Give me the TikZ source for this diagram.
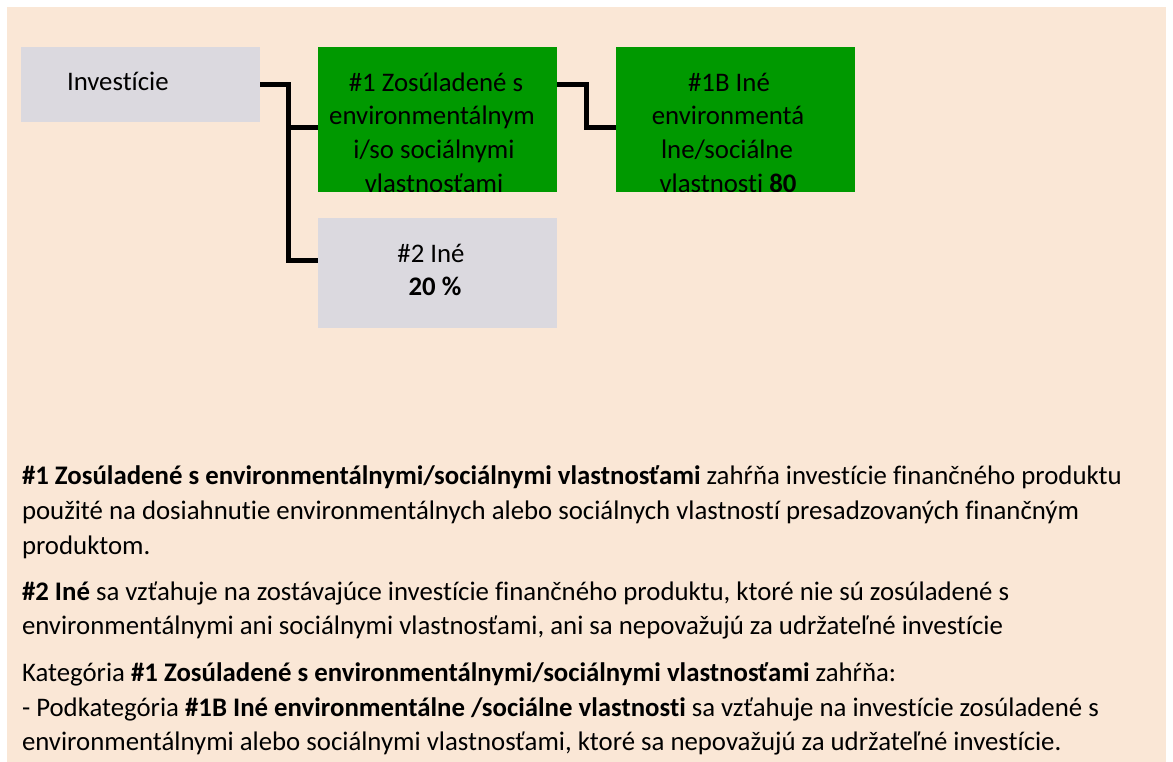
\documentclass[tikz,border=0pt]{standalone}
\usepackage{fontspec}
\setmainfont{Carlito}[Ligatures=NoCommon]
\definecolor{beige}{RGB}{250,231,214}
\definecolor{boxgray}{RGB}{219,217,223}
\definecolor{boxgreen}{RGB}{0,153,0}
\begin{document}
\begin{tikzpicture}[x=1pt,y=-1pt,
  box/.style={draw=none,inner sep=0pt,outer sep=0pt,minimum width=239pt,anchor=north west},
  graybox/.style={box,fill=boxgray},
  greenbox/.style={box,fill=boxgreen},
  lbl/.style={inner sep=0pt,outer sep=0pt,font=\fontsize{26.8}{34}\selectfont},
  txt/.style={lbl,anchor=base west},
  ctxt/.style={lbl,anchor=base},
  conn/.style={line width=5pt,black,line cap=butt,line join=miter}]
\useasboundingbox (0,0) rectangle (1173,762);
\fill[beige] (7,7) rectangle (1166,762);
% boxes
\node[graybox,minimum height=75pt] (inv) at (21,47) {};
\node[greenbox,minimum height=145pt] (b1) at (318,47) {};
\node[greenbox,minimum height=145pt] (b1b) at (616,47) {};
\node[graybox,minimum height=110pt] (b2) at (318,218) {};
% connectors
\draw[conn] (inv.east) -| ([xshift=28pt,yshift=-26.5pt]inv.east) |- ([yshift=12pt]b2.west);
\draw[conn] ([xshift=-30pt,yshift=-8.5pt]b1.west) -- ([yshift=-8.5pt]b1.west);
\draw[conn] ([yshift=34.5pt]b1.east) -| ([xshift=-30pt,yshift=-8.5pt]b1b.west) -- ([yshift=-8.5pt]b1b.west);
% box texts
\node[txt] (tinv) at (67,91) {Investície};
\begin{scope}
\clip (b1.south west) rectangle (b1.north east);
\node[ctxt] (t1a) at (436,92) {\#1 Zosúladené s};
\node[ctxt] (t1b) at (432,125) {environmentálnym};
\node[ctxt] (t1c) at (434,159) {i/so sociálnymi};
\node[ctxt] (t1d) at (434,192.5) {vlastnosťami};
\end{scope}
\begin{scope}
\clip (b1b.south west) rectangle (b1b.north east);
\node[ctxt] (t1ba) at (729,92) {\#1B Iné};
\node[ctxt] (t1bb) at (728,125) {environmentá};
\node[ctxt] (t1bc) at (727,159) {lne/sociálne};
\node[ctxt] (t1bd) at (728,192.5) {vlastnosti \textbf{80}};
\end{scope}
\node[ctxt] (t2a) at (431,262) {\#2 Iné};
\node[ctxt] (t2b) at (435,295) {\textbf{20 \%}};
% explanatory text
\node[txt] (p1a) at (22,484) {\textbf{\#1 Zosúladené s environmentálnymi/sociálnymi vlastnosťami} zahŕňa investície finančného produktu};
\node[txt] (p1b) at (22,519) {použité na dosiahnutie environmentálnych alebo sociálnych vlastností presadzovaných finančným};
\node[txt] (p1c) at (22,554) {produktom.};
\node[txt] (p2a) at (22,600) {\textbf{\#2 Iné} sa vzťahuje na zostávajúce investície finančného produktu, ktoré nie sú zosúladené s};
\node[txt] (p2b) at (22,634) {environmentálnymi ani sociálnymi vlastnosťami, ani sa nepovažujú za udržateľné investície};
\node[txt] (p3a) at (22,681) {Kategória \textbf{\#1 Zosúladené s environmentálnymi/sociálnymi vlastnosťami} zahŕňa:};
\node[txt] (p3b) at (22,716) {- Podkategória \textbf{\#1B Iné environmentálne /sociálne vlastnosti} sa vzťahuje na investície zosúladené s};
\node[txt] (p3c) at (22,750) {environmentálnymi alebo sociálnymi vlastnosťami, ktoré sa nepovažujú za udržateľné investície.};
\end{tikzpicture}
\end{document}
